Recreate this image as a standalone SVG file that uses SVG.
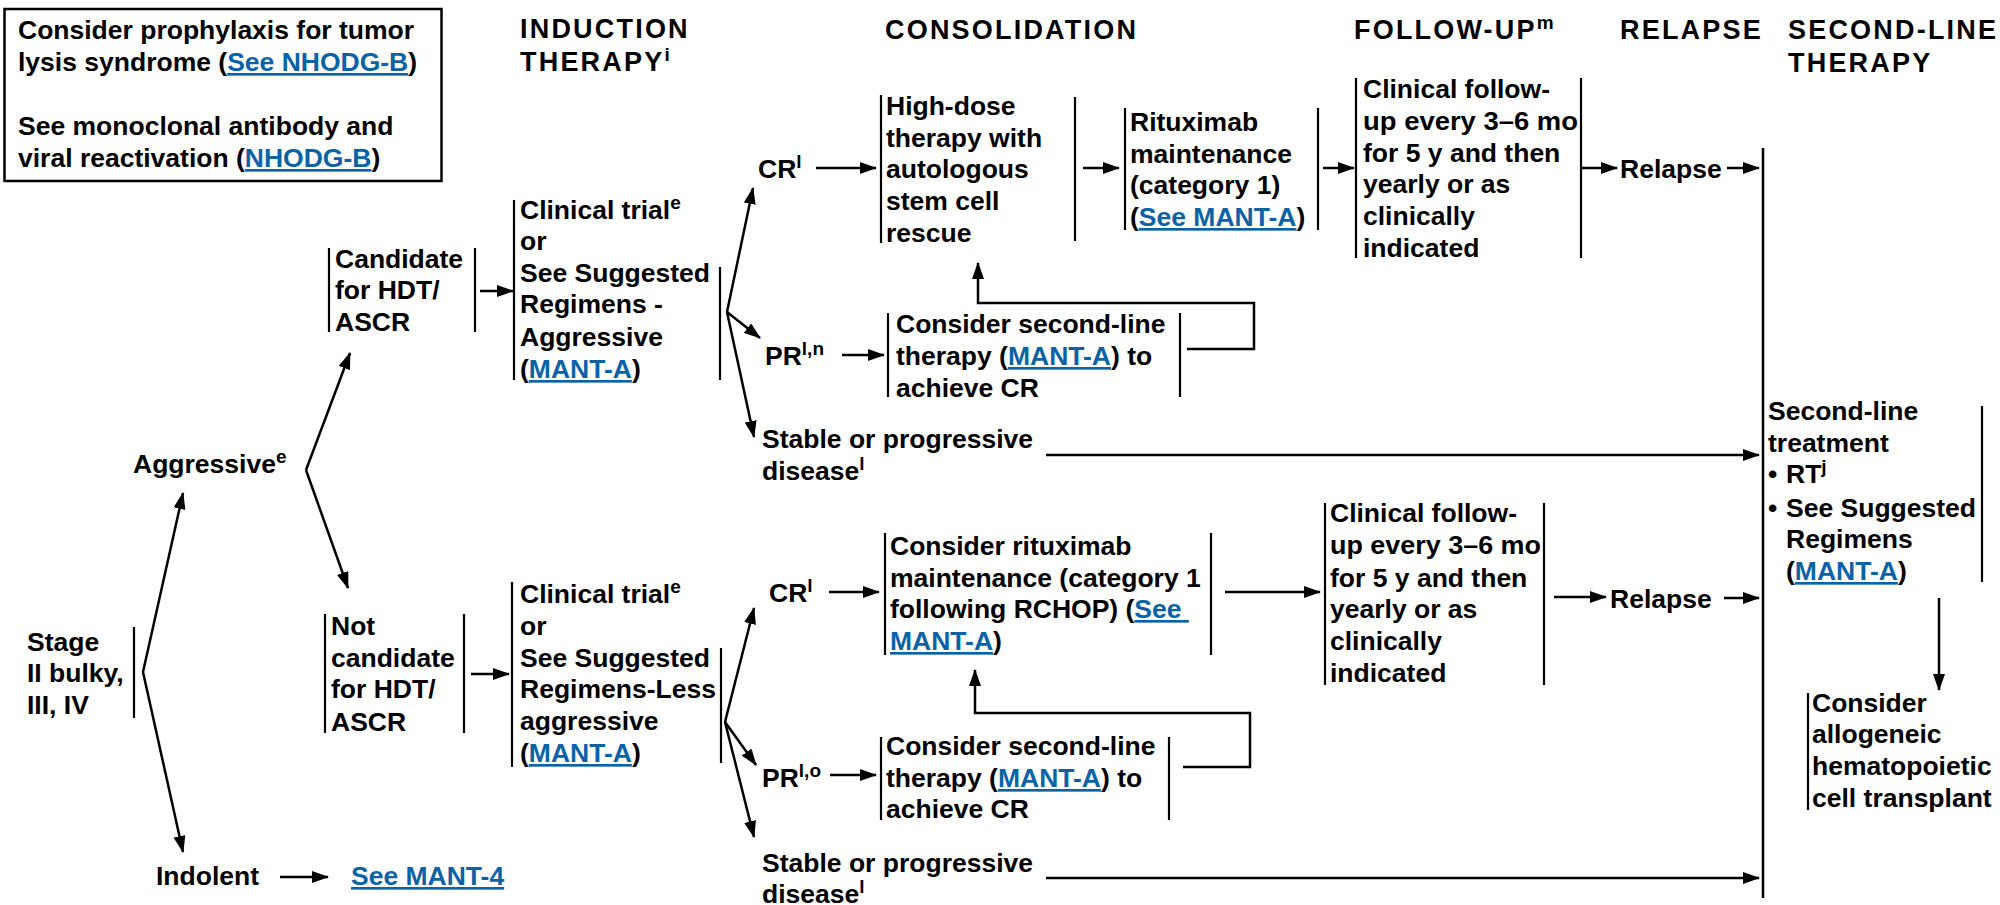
<svg xmlns="http://www.w3.org/2000/svg" width="2000" height="905" viewBox="0 0 2000 905">
<style>
text{font-family:"Liberation Sans",Arial,sans-serif;font-weight:bold;font-size:26.5px;fill:#000}
.h{font-size:27px;letter-spacing:2.2px}
.lk{fill:#0b63a6;text-decoration:underline}
.sup{font-size:19px}
.bar{stroke:#000;stroke-width:2.2;fill:none}
.c{stroke:#000;stroke-width:2.5;fill:none}
.a{marker-end:url(#ah)}
</style>
<defs>
<marker id="ah" markerUnits="userSpaceOnUse" markerWidth="17" markerHeight="12" refX="16" refY="6" orient="auto">
<path d="M0,0 L17,6 L0,12 z" fill="#000"/>
</marker>
</defs>
<rect width="2000" height="905" fill="#fff"/>

<g id="note">
<rect x="4.5" y="9" width="437" height="172" fill="none" stroke="#000" stroke-width="2.5"/>
<text><tspan x="18" y="39">Consider prophylaxis for tumor</tspan><tspan x="18" y="71">lysis syndrome (<tspan class="lk">See NHODG-B</tspan>)</tspan><tspan x="18" y="135">See monoclonal antibody and</tspan><tspan x="18" y="167">viral reactivation (<tspan class="lk">NHODG-B</tspan>)</tspan></text>
</g>

<g id="headers">
<text class="h"><tspan x="520" y="38">INDUCTION</tspan><tspan x="520" y="71">THERAPY<tspan class="sup" dy="-10">i</tspan></tspan></text>
<text class="h" x="885" y="39">CONSOLIDATION</text>
<text class="h" x="1354" y="39">FOLLOW-UP<tspan class="sup" dy="-10">m</tspan></text>
<text class="h" x="1620" y="39">RELAPSE</text>
<text class="h"><tspan x="1788" y="39">SECOND-LINE</tspan><tspan x="1788" y="72">THERAPY</tspan></text>
</g>

<g id="stage">
<text><tspan x="27" y="651">Stage</tspan><tspan x="27" y="682">II bulky,</tspan><tspan x="27" y="714">III, IV</tspan></text>
<line class="bar" x1="134" y1="627" x2="134" y2="718"/>
</g>

<g id="aggressive">
<text x="133" y="473">Aggressive<tspan class="sup" dy="-10">e</tspan></text>
</g>

<g id="indolent">
<text x="156" y="885">Indolent</text>
</g>

<g id="see-mant4">
<text x="351" y="885" class="lk">See MANT-4</text>
</g>

<g id="candidate">
<line class="bar" x1="329" y1="248" x2="329" y2="332"/>
<line class="bar" x1="475" y1="248" x2="475" y2="332"/>
<text><tspan x="335" y="268">Candidate</tspan><tspan x="335" y="299">for HDT/</tspan><tspan x="335" y="331">ASCR</tspan></text>
</g>

<g id="not-candidate">
<line class="bar" x1="325" y1="614" x2="325" y2="733"/>
<line class="bar" x1="464" y1="614" x2="464" y2="733"/>
<text><tspan x="331" y="635">Not</tspan><tspan x="331" y="667">candidate</tspan><tspan x="331" y="698">for HDT/</tspan><tspan x="331" y="731">ASCR</tspan></text>
</g>

<g id="induction-aggressive">
<line class="bar" x1="514" y1="200" x2="514" y2="380"/>
<line class="bar" x1="720" y1="267" x2="720" y2="380"/>
<text><tspan x="520" y="219">Clinical trial<tspan class="sup" dy="-10">e</tspan></tspan><tspan x="520" y="250">or</tspan><tspan x="520" y="282">See Suggested</tspan><tspan x="520" y="313">Regimens -</tspan><tspan x="520" y="346">Aggressive</tspan><tspan x="520" y="378">(<tspan class="lk">MANT-A</tspan>)</tspan></text>
</g>

<g id="induction-less">
<line class="bar" x1="512" y1="582" x2="512" y2="767"/>
<line class="bar" x1="721" y1="648" x2="721" y2="763"/>
<text><tspan x="520" y="603">Clinical trial<tspan class="sup" dy="-10">e</tspan></tspan><tspan x="520" y="635">or</tspan><tspan x="520" y="667">See Suggested</tspan><tspan x="520" y="698">Regimens-Less</tspan><tspan x="520" y="730">aggressive</tspan><tspan x="520" y="762">(<tspan class="lk">MANT-A</tspan>)</tspan></text>
</g>

<g id="cr-upper"><text x="758" y="178">CR<tspan class="sup" dy="-10">l</tspan></text></g>
<g id="pr-upper"><text x="765" y="365">PR<tspan class="sup" dy="-10">l,n</tspan></text></g>
<g id="stable-upper"><text><tspan x="762" y="448">Stable or progressive</tspan><tspan x="762" y="480">disease<tspan class="sup" dy="-10">l</tspan></tspan></text></g>

<g id="cr-lower"><text x="769" y="602">CR<tspan class="sup" dy="-10">l</tspan></text></g>
<g id="pr-lower"><text x="762" y="787">PR<tspan class="sup" dy="-10">l,o</tspan></text></g>
<g id="stable-lower"><text><tspan x="762" y="872">Stable or progressive</tspan><tspan x="762" y="903">disease<tspan class="sup" dy="-10">l</tspan></tspan></text></g>

<g id="hdt">
<line class="bar" x1="881" y1="95" x2="881" y2="243"/>
<line class="bar" x1="1075" y1="97" x2="1075" y2="241"/>
<text><tspan x="886" y="115">High-dose</tspan><tspan x="886" y="147">therapy with</tspan><tspan x="886" y="178">autologous</tspan><tspan x="886" y="210">stem cell</tspan><tspan x="886" y="242">rescue</tspan></text>
</g>

<g id="rituximab">
<line class="bar" x1="1125" y1="108" x2="1125" y2="230"/>
<line class="bar" x1="1318" y1="108" x2="1318" y2="230"/>
<text><tspan x="1130" y="131">Rituximab</tspan><tspan x="1130" y="163">maintenance</tspan><tspan x="1130" y="194">(category 1)</tspan><tspan x="1130" y="226">(<tspan class="lk">See MANT-A</tspan>)</tspan></text>
</g>

<g id="followup-upper">
<line class="bar" x1="1356" y1="78" x2="1356" y2="258"/>
<line class="bar" x1="1581" y1="78" x2="1581" y2="258"/>
<text><tspan x="1363" y="98">Clinical follow-</tspan><tspan x="1363" y="130" textLength="215" lengthAdjust="spacingAndGlyphs">up every 3–6 mo</tspan><tspan x="1363" y="162">for 5 y and then</tspan><tspan x="1363" y="193">yearly or as</tspan><tspan x="1363" y="225">clinically</tspan><tspan x="1363" y="257">indicated</tspan></text>
</g>

<g id="relapse-upper"><text x="1620" y="178">Relapse</text></g>

<g id="pr-upper-box">
<line class="bar" x1="888" y1="313" x2="888" y2="397"/>
<line class="bar" x1="1180" y1="313" x2="1180" y2="397"/>
<text><tspan x="896" y="333">Consider second-line</tspan><tspan x="896" y="365">therapy (<tspan class="lk">MANT-A</tspan>) to</tspan><tspan x="896" y="397">achieve CR</tspan></text>
</g>

<g id="rituximab-lower">
<line class="bar" x1="885" y1="533" x2="885" y2="655"/>
<line class="bar" x1="1211" y1="533" x2="1211" y2="655"/>
<text><tspan x="890" y="555">Consider rituximab</tspan><tspan x="890" y="587">maintenance (category 1</tspan><tspan x="890" y="618">following RCHOP) (<tspan class="lk">See </tspan></tspan><tspan x="890" y="650"><tspan class="lk">MANT-A</tspan>)</tspan></text>
</g>

<g id="followup-lower">
<line class="bar" x1="1325" y1="503" x2="1325" y2="685"/>
<line class="bar" x1="1544" y1="503" x2="1544" y2="685"/>
<text><tspan x="1330" y="522">Clinical follow-</tspan><tspan x="1330" y="554" textLength="211" lengthAdjust="spacingAndGlyphs">up every 3–6 mo</tspan><tspan x="1330" y="587">for 5 y and then</tspan><tspan x="1330" y="618">yearly or as</tspan><tspan x="1330" y="650">clinically</tspan><tspan x="1330" y="682">indicated</tspan></text>
</g>

<g id="relapse-lower"><text x="1610" y="608">Relapse</text></g>

<g id="pr-lower-box">
<line class="bar" x1="881" y1="737" x2="881" y2="820"/>
<line class="bar" x1="1169" y1="737" x2="1169" y2="820"/>
<text><tspan x="886" y="755">Consider second-line</tspan><tspan x="886" y="787">therapy (<tspan class="lk">MANT-A</tspan>) to</tspan><tspan x="886" y="818">achieve CR</tspan></text>
</g>

<g id="second-line">
<line class="bar" x1="1982" y1="406" x2="1982" y2="582"/>
<text><tspan x="1768" y="420">Second-line</tspan><tspan x="1768" y="452">treatment</tspan><tspan x="1768" y="483">•</tspan><tspan x="1786" y="483">RT<tspan class="sup" dy="-10">j</tspan></tspan><tspan x="1768" y="517">•</tspan><tspan x="1786" y="517">See Suggested</tspan><tspan x="1786" y="548">Regimens</tspan><tspan x="1786" y="580">(<tspan class="lk">MANT-A</tspan>)</tspan></text>
</g>

<g id="allogeneic">
<line class="bar" x1="1808" y1="693" x2="1808" y2="810"/>
<text><tspan x="1812" y="712">Consider</tspan><tspan x="1812" y="743">allogeneic</tspan><tspan x="1812" y="775">hematopoietic</tspan><tspan x="1812" y="807">cell transplant</tspan></text>
</g>

<g id="connectors">
<line class="c" x1="1763" y1="148" x2="1763" y2="898"/>
<line class="c a" x1="143" y1="672" x2="183" y2="493"/>
<line class="c a" x1="143" y1="672" x2="183" y2="852"/>
<line class="c a" x1="306" y1="470" x2="350" y2="353"/>
<line class="c a" x1="306" y1="470" x2="348" y2="588"/>
<line class="c a" x1="280" y1="877" x2="328" y2="877"/>
<line class="c a" x1="480" y1="291" x2="513" y2="291"/>
<line class="c a" x1="471" y1="674" x2="509" y2="674"/>
<line class="c a" x1="727" y1="312" x2="753" y2="188"/>
<line class="c a" x1="727" y1="312" x2="760" y2="338"/>
<line class="c a" x1="727" y1="312" x2="754" y2="437"/>
<line class="c a" x1="725" y1="722" x2="754" y2="608"/>
<line class="c a" x1="725" y1="722" x2="756" y2="765"/>
<line class="c a" x1="725" y1="722" x2="754" y2="837"/>
<line class="c a" x1="816" y1="168" x2="876" y2="168"/>
<line class="c a" x1="842" y1="355" x2="884" y2="355"/>
<line class="c a" x1="829" y1="592" x2="879" y2="592"/>
<line class="c a" x1="830" y1="775" x2="876" y2="775"/>
<line class="c a" x1="1083" y1="168" x2="1119" y2="168"/>
<line class="c a" x1="1323" y1="168" x2="1354" y2="168"/>
<line class="c a" x1="1581" y1="168" x2="1617" y2="168"/>
<line class="c a" x1="1727" y1="168" x2="1759" y2="168"/>
<line class="c a" x1="1225" y1="592" x2="1320" y2="592"/>
<line class="c a" x1="1554" y1="597" x2="1606" y2="597"/>
<line class="c a" x1="1724" y1="598" x2="1759" y2="598"/>
<line class="c a" x1="1046" y1="455" x2="1759" y2="455"/>
<line class="c a" x1="1046" y1="878" x2="1759" y2="878"/>
<path class="c a" d="M1187,349 H1254 V303 H978 V263"/>
<path class="c a" d="M1183,767 H1250 V713 H975 V670"/>
<line class="c a" x1="1939" y1="598" x2="1939" y2="690"/>
</g>
</svg>
